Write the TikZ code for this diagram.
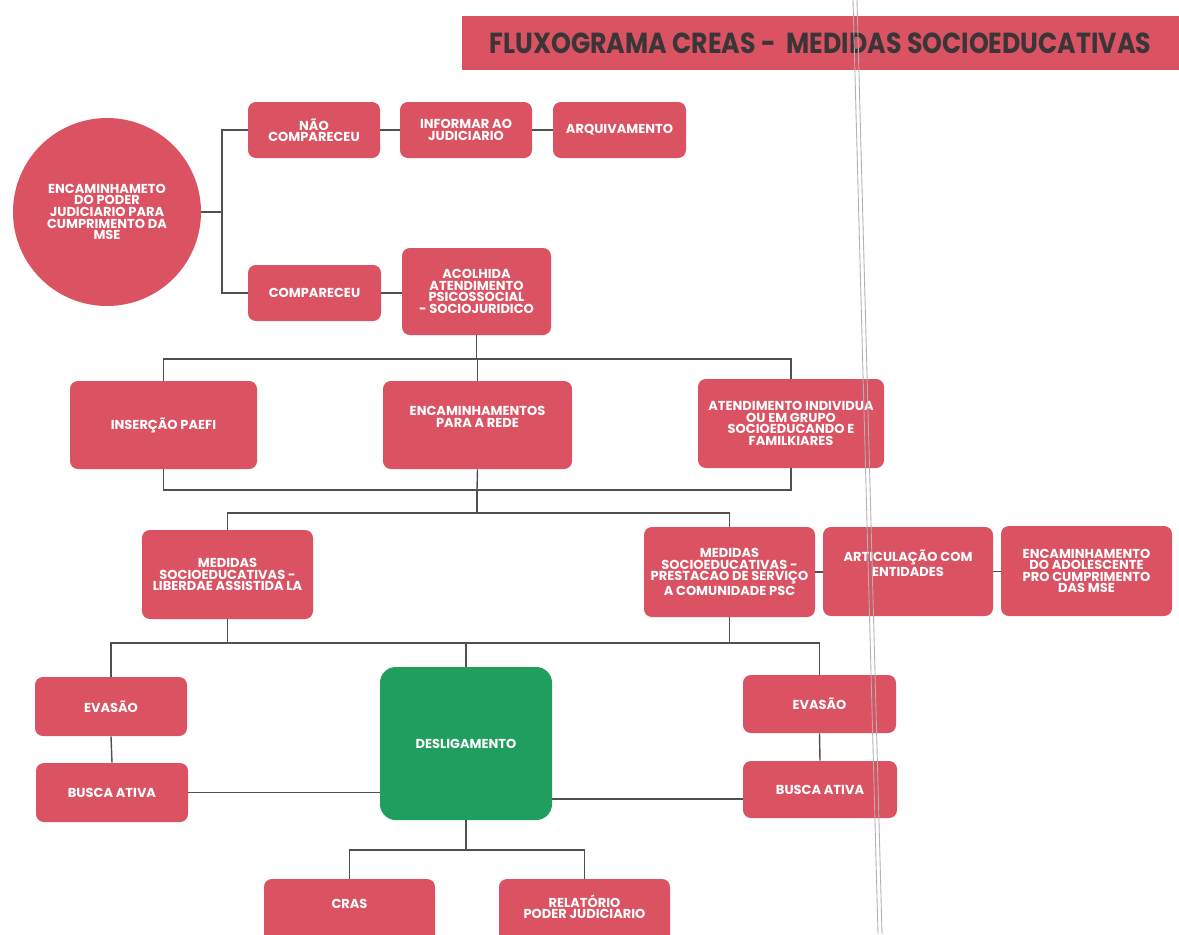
\documentclass[tikz,border=0pt]{standalone}
\usepackage{fontspec}
\setmainfont{Poppins}
\usetikzlibrary{calc}
\definecolor{boxred}{HTML}{DB5263}
\definecolor{boxgreen}{HTML}{1F9E5E}
\definecolor{linegray}{HTML}{505050}
\definecolor{titlegray}{HTML}{3A3638}
\newcommand\boxfont{\fontsize{7.4}{6.6}\selectfont\bfseries}
\begin{document}
\begin{tikzpicture}[x=0.02cm,y=-0.02cm,
  bx/.style 2 args={rectangle, rounded corners=4.5pt, fill=boxred, draw=none,
    text=white, align=center, inner sep=1pt,
    minimum width=#1*0.02cm, minimum height=#2*0.02cm,
    font=\boxfont},
  conn/.style={draw=linegray, line width=0.8pt},
  fold/.style={draw=gray!60, line width=0.5pt}]
\useasboundingbox (0,0) rectangle (1179,934);
\clip (0,0) rectangle (1179,934);
\fill[white] (0,0) rectangle (1179,934);

% title
\node[fill=boxred, minimum width=717*0.02cm, minimum height=54*0.02cm, inner sep=0pt,
  text=titlegray, font=\fontsize{16.5}{17}\selectfont\bfseries] (title) at (820.5,43)
  {\scalebox{0.87}[1]{FLUXOGRAMA CREAS -\ \ MEDIDAS SOCIOEDUCATIVAS}};

% circle
\node[circle, fill=boxred, minimum size=188*0.02cm, text=white, align=center, inner sep=0pt,
  font=\boxfont] (circ) at (107,212)
  {ENCAMINHAMETO\\DO PODER\\JUDICIARIO PARA\\CUMPRIMENTO DA\\MSE};

% top rows
\node[bx={132}{56}] (nao) at (314,130) {NÃO\\COMPARECEU};
\node[bx={132}{56}] (inf) at (466,130) {INFORMAR AO\\JUDICIARIO};
\node[bx={133}{56}] (arq) at (619.5,130) {\raisebox{1.2pt}{ARQUIVAMENTO}};
\node[bx={133}{56}] (comp) at (314.5,293) {COMPARECEU};
\node[bx={149}{87}] (acol) at (476.5,291.5) {ACOLHIDA\\ATENDIMENTO\\PSICOSSOCIAL\\- SOCIOJURIDICO};

% third row
\node[bx={187}{88}] (paefi) at (163.5,425) {INSERÇÃO PAEFI};
\node[bx={189}{88}] (rede) at (477.5,425) {ENCAMINHAMENTOS\\PARA A REDE\\[3pt]};
\node[bx={186}{89}] (atend) at (791,423.5) {ATENDIMENTO INDIVIDUA\\OU EM GRUPO\\SOCIOEDUCANDO E\\FAMILKIARES};

% fourth row
\node[bx={171}{89}] (la) at (227.5,574.5) {MEDIDAS\\SOCIOEDUCATIVAS -\\LIBERDAE ASSISTIDA LA};
\node[bx={171}{90}] (psc) at (729.5,572) {MEDIDAS\\SOCIOEDUCATIVAS -\\PRESTACAO DE SERVIÇO\\A COMUNIDADE PSC};
\node[bx={170}{89}] (art) at (908,571.5) {ARTICULAÇÃO COM\\ENTIDADES\\[3pt]};
\node[bx={171}{90}] (enc) at (1086.5,571) {ENCAMINHAMENTO\\DO ADOLESCENTE\\PRO CUMPRIMENTO\\DAS MSE};

% fifth row
\node[bx={152}{59}] (evl) at (111,706.5) {EVASÃO};
\node[bx={152}{59}] (bal) at (112,792.5) {BUSCA ATIVA};
\node[bx={172}{153}, fill=boxgreen, rounded corners=9pt] (desl) at (466,743.5) {DESLIGAMENTO};
\node[bx={153}{58}] (evr) at (819.5,704) {EVASÃO};
\node[bx={154}{57}] (bar) at (820,789.5) {BUSCA ATIVA};

% bottom row (cut by page edge)
\node[bx={171}{70}] (cras) at (349.5,914) {CRAS\\[5pt]};
\node[bx={171}{70}] (rel) at (584.5,914) {RELATÓRIO\\PODER JUDICIARIO\\[2pt]};

% junction coordinates
\coordinate (j1) at (222,212);
\coordinate (b1) at (477,359);
\coordinate (b2) at (477,490);
\coordinate (b3) at (477,513);
\coordinate (b4) at (466,643);
\coordinate (b5) at (466,850);
\coordinate (yr) at (0,799);

% connectors
\draw[conn] (circ.east) -- (j1);
\draw[conn] (j1) |- (nao.west);
\draw[conn] (j1) |- (comp.west);
\draw[conn] (nao.east) -- (inf.west);
\draw[conn] (inf.east) -- (arq.west);
\draw[conn] (comp.east) -- (comp.east -| acol.west);

\draw[conn] (acol.south) -- (acol.south |- b1);
\draw[conn] (paefi.north) |- (b1);
\draw[conn] (atend.north) |- (b1);
\draw[conn] (rede.north) -- (rede.north |- b1);

\draw[conn] (paefi.south) |- (b2);
\draw[conn] (atend.south) |- (b2);
\draw[conn] (rede.south) -- (b2);
\draw[conn] (b2) -- (b3);
\draw[conn] (la.north) |- (b3);
\draw[conn] (psc.north) |- (b3);

\draw[conn] (psc.east) -- (psc.east -| art.west);
\draw[conn] (art.east) -- (art.east -| enc.west);

\draw[conn] (la.south) -- (la.south |- b4);
\draw[conn] (psc.south) -- (psc.south |- b4);
\draw[conn] (evl.north) |- (b4);
\draw[conn] (evr.north) |- (b4);
\draw[conn] (desl.north) -- (b4);

\draw[conn] (evl.south) -- (bal.north);
\draw[conn] (evr.south) -- (bar.north);
\draw[conn] (bal.east) -- (bal.east -| desl.west);
\draw[conn] (desl.east |- yr) -- (bar.west |- yr);

\draw[conn] (desl.south) -- (b5);
\draw[conn] (cras.north) |- (b5);
\draw[conn] (rel.north) |- (b5);

% fold line of the scanned page
\draw[fold] (853,0) -- (878,934);
\draw[fold] (857,0) -- (882,934);
\end{tikzpicture}
\end{document}
